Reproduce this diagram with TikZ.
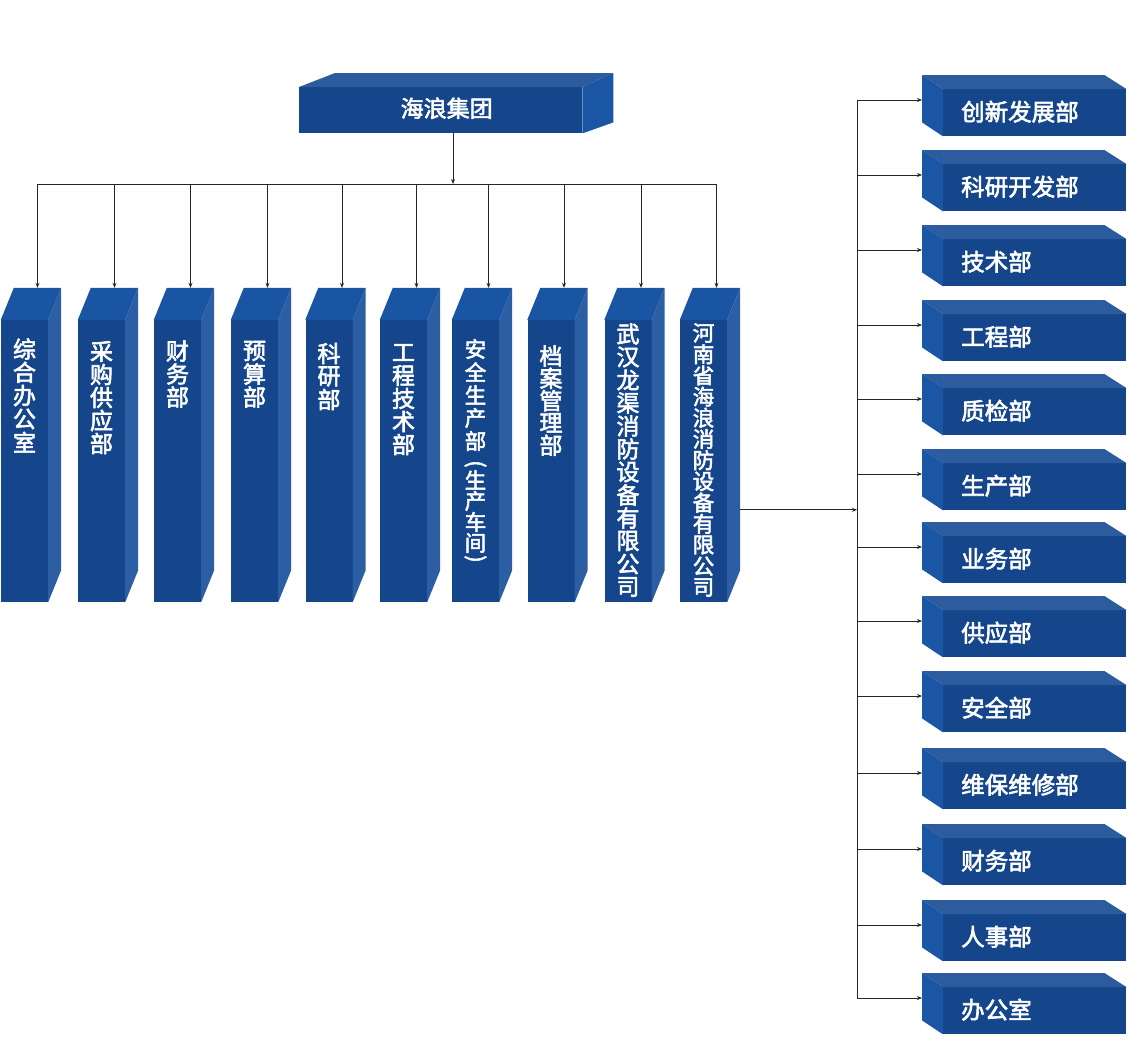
\documentclass[tikz,border=0pt]{standalone}
\usepackage{fontspec}
\newfontfamily\cjk{Noto Sans CJK SC}[FakeBold=2.5]
\usetikzlibrary{arrows.meta,calc}
\definecolor{frontc}{HTML}{15458A}
\definecolor{vtopc}{HTML}{1A55A3}
\definecolor{vsidec}{HTML}{2B5EA2}
\definecolor{htopc}{HTML}{2C5C9E}
\definecolor{hsidec}{HTML}{1A56A3}
\definecolor{linec}{HTML}{262626}
\tikzset{
  vfront/.style={fill=frontc, inner sep=0pt, minimum width=47pt, minimum height=282pt},
  rfront/.style={fill=frontc, inner sep=0pt, minimum width=183pt, minimum height=47pt},
  chr/.style={text=white, inner sep=0pt, font=\cjk\fontsize{23}{23}\selectfont},
  conn/.style={draw=linec, line width=0.9pt, -{Stealth[length=5pt,width=4pt]}},
  busline/.style={draw=linec, line width=0.9pt}
}
\newcommand\mkvface[2]{% name, center x
  \node[vfront] (#1) at (#2,461) {};
  \fill[vtopc] (#1.north west) -- ++(13,-32) -- ($(#1.north east)+(13,-32)$) -- (#1.north east) -- cycle;
  \fill[vsidec] (#1.north east) -- ++(13,-32) -- ($(#1.south east)+(13,-32)$) -- (#1.south east) -- cycle;
  \coordinate (#1in) at ($(#1.north)+(13,-32)$);
}
\newcommand\mkvtext[6]{% name, center x, first y, pitch, font size, chars
  \foreach \c [count=\i] in {#6} {\node[chr, font=\cjk\fontsize{#5}{#5}\selectfont] (#1t\i) at (#2,{#3+(\i-1)*#4}) {\c};}
}
\newcommand\mkrbox[3]{% name, front top y, text
  \node[rfront, anchor=north west] (#1) at (943,#2) {};
  \fill[htopc] (#1.north west) -- ++(-21,-14) -- ($(#1.north east)+(-22,-14)$) -- (#1.north east) -- cycle;
  \fill[hsidec] (#1.north west) -- ++(-21,-14) -- ($(#1.south west)+(-21,-14)$) -- (#1.south west) -- cycle;
  \coordinate (#1in) at ($(#1.north west)+(-21,11)$);
  \node[chr, font=\cjk\fontsize{23.5}{23.5}\selectfont, anchor=west] (#1t) at ($(#1.west)+(18,-1)$) {#3};
  \draw[conn] (#1in -| rbus) -- (#1in);
}
\begin{document}
\begin{tikzpicture}[x=1pt,y=-1pt]
\fill[white] (0,0) rectangle (1138,1060);
\useasboundingbox (0,0) rectangle (1138,1060);
% top box
\node[fill=frontc, inner sep=0pt, minimum width=283pt, minimum height=46pt, anchor=north west] (top) at (299,87) {};
\fill[htopc] (top.north west) -- ++(36,-14) -- ($(top.north east)+(31,-14)$) -- (top.north east) -- cycle;
\fill[hsidec] (top.north east) -- ++(31,-14) -- ($(top.south east)+(31,-11)$) -- (top.south east) -- cycle;
\node[chr] (topt) at (446.7,108.3) {海浪集团};
\coordinate (tb) at ($(top.south west)+(154,0)$);
\coordinate (hbus) at (0,184);
\coordinate (rbus) at (857,0);
% vertical boxes
\mkvface{v1}{24.5}
\mkvface{v2}{101.5}
\mkvface{v3}{177.5}
\mkvface{v4}{254.5}
\mkvface{v5}{329}
\mkvface{v6}{403.5}
\mkvface{v7}{475.5}
\mkvface{v8}{551}
\mkvface{v9}{628}
\mkvface{v10}{703.5}
\mkvtext{v1}{24.5}{349}{23.3}{23}{综,合,办,公,室}
\mkvtext{v2}{101.5}{351.5}{23}{23}{采,购,供,应,部}
\mkvtext{v3}{177.5}{351}{23}{23}{财,务,部}
\mkvtext{v4}{254.5}{351}{23}{23}{预,算,部}
\mkvtext{v5}{329}{353.5}{23}{23}{科,研,部}
\mkvtext{v6}{403.5}{352.5}{23}{23}{工,程,技,术,部}
\foreach \y/\c [count=\i] in {349/安,372/全,395/生,418/产,441/部,480/生,501/产,522/车,543/间}
  {\node[chr, font=\cjk\fontsize{21.5}{21.5}\selectfont] (v7t\i) at (475.5,\y) {\c};}
\node[chr, font=\cjk\fontsize{21.5}{21.5}\selectfont, rotate=-90] (v7po) at (475.5,464) {(};
\node[chr, font=\cjk\fontsize{21.5}{21.5}\selectfont, rotate=-90] (v7pc) at (475.5,559) {)};
\mkvtext{v8}{551}{356}{22.3}{23}{档,案,管,理,部}
\mkvtext{v9}{628}{334}{23}{23}{武,汉,龙,渠,消,防,设,备,有,限,公,司}
\mkvtext{v10}{703.5}{333}{21.2}{21.5}{河,南,省,海,浪,消,防,设,备,有,限,公,司}
% top connectors
\draw[conn] (tb) -- (tb |- hbus);
\draw[busline] (v1in |- hbus) -- (v10in |- hbus);
\foreach \n in {v1,v2,v3,v4,v5,v6,v7,v8,v9,v10}
  {\draw[conn] (\n in |- hbus) -- (\n in);}
% right boxes
\mkrbox{r1}{89}{创新发展部}
\mkrbox{r2}{164}{科研开发部}
\mkrbox{r3}{239}{技术部}
\mkrbox{r4}{314}{工程部}
\mkrbox{r5}{388}{质检部}
\mkrbox{r6}{463}{生产部}
\mkrbox{r7}{536}{业务部}
\mkrbox{r8}{610}{供应部}
\mkrbox{r9}{685}{安全部}
\mkrbox{r10}{762}{维保维修部}
\mkrbox{r11}{838}{财务部}
\mkrbox{r12}{914}{人事部}
\mkrbox{r13}{987}{办公室}
\draw[busline] (r1in -| rbus) -- (r13in -| rbus);
\coordinate (v10out) at ($(v10.north east)+(13,190)$);
\draw[conn] (v10out) -- (v10out -| rbus);
\end{tikzpicture}
\end{document}
